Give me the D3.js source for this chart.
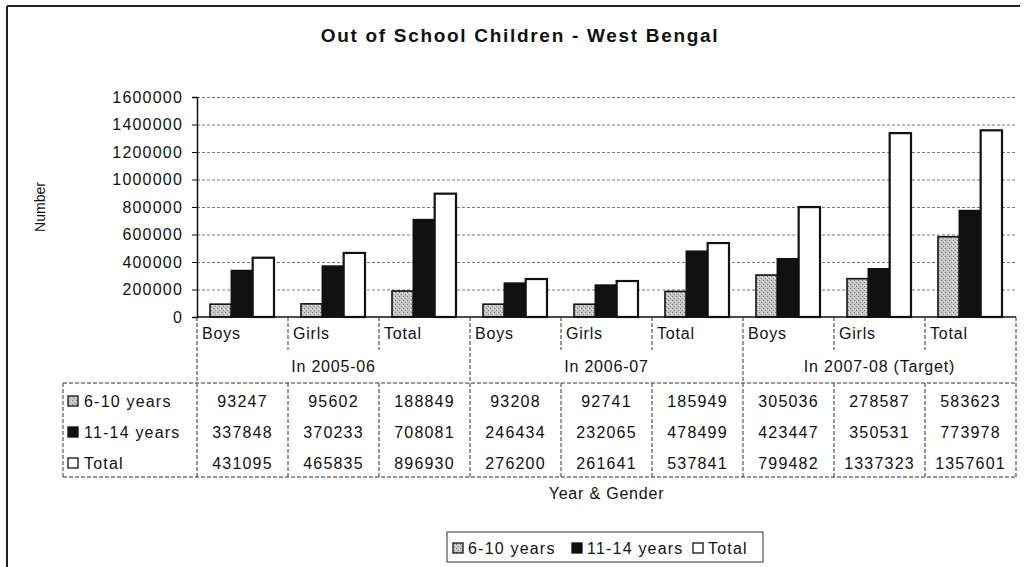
<!DOCTYPE html>
<html>
<head>
<meta charset="utf-8">
<script src="https://cdn.jsdelivr.net/npm/d3@7"></script>
<style>
  body { margin: 0; background: #fff; }
  svg { display: block; }
  text { font-family: "Liberation Sans", Arial, sans-serif; fill: #111; }
</style>
</head>
<body>
<svg width="1025" height="567"></svg>
<script>
const categories = ["Boys", "Girls", "Total", "Boys", "Girls", "Total", "Boys", "Girls", "Total"]
const groups = ["In 2005-06", "In 2006-07", "In 2007-08 (Target)"]
const seriesNames = ["6-10 years", "11-14 years", "Total"]
const age6to10 = [93247, 95602, 188849, 93208, 92741, 185949, 305036, 278587, 583623]
const age11to14 = [337848, 370233, 708081, 246434, 232065, 478499, 423447, 350531, 773978]
const totals = [431095, 465835, 896930, 276200, 261641, 537841, 799482, 1337323, 1357601]
const yTicks = [0, 200000, 400000, 600000, 800000, 1000000, 1200000, 1400000, 1600000]

const series = [age6to10, age11to14, totals]

const svg = d3.select("svg")
const defs = svg.append("defs")

// speckled grey fill for the 6-10 years bars
const pat = defs.append("pattern")
  .attr("id", "stipple")
  .attr("width", 4).attr("height", 4)
  .attr("patternUnits", "userSpaceOnUse")
pat.append("rect").attr("width", 4).attr("height", 4).attr("fill", "#c6c6c6")
pat.append("rect").attr("x", 0).attr("y", 0).attr("width", 1).attr("height", 1).attr("fill", "#7a7a7a")
pat.append("rect").attr("x", 2).attr("y", 2).attr("width", 1).attr("height", 1).attr("fill", "#8c8c8c")
pat.append("rect").attr("x", 3).attr("y", 1).attr("width", 1).attr("height", 1).attr("fill", "#eeeeee")

const fills = ["url(#stipple)", "#111", "#fff"]

const plotLeft = 197, plotRight = 1016, plotTop = 97, plotBottom = 317
const tableTop = 383, tableBottom = 477, tableLeft = 63

// frame
svg.append("line").attr("x1", 7).attr("x2", 1020).attr("y1", 6).attr("y2", 6)
  .attr("stroke", "#222").attr("stroke-width", 2)
svg.append("line").attr("x1", 7).attr("x2", 7).attr("y1", 6).attr("y2", 567)
  .attr("stroke", "#222").attr("stroke-width", 2)

svg.append("text")
  .attr("x", 520).attr("y", 42)
  .attr("text-anchor", "middle")
  .style("font-size", "19px").style("font-weight", "bold").style("letter-spacing", "1.7px")
  .text("Out of School Children - West Bengal")

const y = d3.scaleLinear().domain([0, 1600000]).range([plotBottom, plotTop])
const x = d3.scaleBand().domain(d3.range(categories.length)).range([plotLeft, plotRight])
const x1 = d3.scaleBand().domain(d3.range(seriesNames.length)).range([13, 77])

// gridlines
svg.append("g")
  .attr("transform", `translate(${plotLeft},0)`)
  .call(d3.axisLeft(y).tickValues(yTicks.slice(1)).tickSize(-(plotRight - plotLeft)).tickFormat(""))
  .call(g => g.select(".domain").remove())
  .call(g => g.selectAll("line").attr("stroke", "#777").attr("stroke-dasharray", "3,2"))

// y axis
const yAxis = svg.append("g")
  .attr("transform", `translate(${plotLeft},0)`)
  .call(d3.axisLeft(y).tickValues(yTicks).tickSize(5).tickPadding(9).tickFormat(d3.format("d")))
yAxis.select(".domain").attr("stroke", "#111").attr("stroke-width", 1.5)
yAxis.selectAll("line").attr("stroke", "#111")
yAxis.selectAll("text")
  .style("font-size", "16px").style("letter-spacing", "1.2px")
  .style("font-family", "'Liberation Sans', Arial, sans-serif").attr("fill", "#111")

svg.append("text")
  .attr("transform", "translate(45,207) rotate(-90)")
  .attr("text-anchor", "middle")
  .style("font-size", "14px")
  .text("Number")

// bars
const cat = svg.append("g").selectAll("g")
  .data(categories)
  .join("g")
  .attr("transform", (d, i) => `translate(${x(i)},0)`)

cat.selectAll("rect")
  .data((d, i) => series.map((s, k) => ({ k, v: s[i] })))
  .join("rect")
  .attr("x", d => x1(d.k))
  .attr("width", x1.bandwidth())
  .attr("y", d => y(d.v))
  .attr("height", d => y(0) - y(d.v))
  .attr("fill", d => fills[d.k])
  .attr("stroke", "#111")
  .attr("stroke-width", d => d.k === 2 ? 2.2 : 1.6)

// category axis line
svg.append("line").attr("x1", plotLeft).attr("x2", plotRight).attr("y1", plotBottom).attr("y2", plotBottom)
  .attr("stroke", "#111").attr("stroke-width", 1.5)

const dash = g => g.attr("stroke", "#333").attr("stroke-width", 1).attr("stroke-dasharray", "4,2")

// category separators
const bounds = d3.range(categories.length + 1).map(i => plotLeft + i * x.step())
svg.append("g").selectAll("line")
  .data(bounds)
  .join("line")
  .attr("x1", d => d).attr("x2", d => d)
  .attr("y1", plotBottom).attr("y2", (d, i) => i % 3 === 0 ? tableTop : 350)
  .call(dash)

svg.append("g").selectAll("text")
  .data(categories)
  .join("text")
  .attr("x", (d, i) => x(i) + 5)
  .attr("y", 339)
  .style("font-size", "16px").style("letter-spacing", "0.8px")
  .text(d => d)

svg.append("g").selectAll("text")
  .data(groups)
  .join("text")
  .attr("x", (d, i) => x(i * 3) + x.step() * 1.5)
  .attr("y", 372)
  .attr("text-anchor", "middle")
  .style("font-size", "16px").style("letter-spacing", "0.8px")
  .text(d => d)

// data table
svg.append("g").selectAll("line")
  .data([tableTop, tableBottom])
  .join("line")
  .attr("x1", tableLeft).attr("x2", plotRight)
  .attr("y1", d => d).attr("y2", d => d)
  .call(dash)
svg.append("line").attr("x1", tableLeft).attr("x2", tableLeft)
  .attr("y1", tableTop).attr("y2", tableBottom).call(dash)
svg.append("g").selectAll("line")
  .data(bounds)
  .join("line")
  .attr("x1", d => d).attr("x2", d => d)
  .attr("y1", tableTop).attr("y2", tableBottom)
  .call(dash)

const rowY = [407, 438, 469]
const keyStyle = (sel, k) => sel
  .attr("fill", fills[k]).attr("stroke", "#111").attr("stroke-width", 1.3)

seriesNames.forEach((name, k) => {
  svg.append("rect")
    .attr("x", 68).attr("y", rowY[k] - 11).attr("width", 10).attr("height", 10)
    .call(keyStyle, k)
  svg.append("text")
    .attr("x", 84).attr("y", rowY[k])
    .style("font-size", "16px").style("letter-spacing", "1.2px")
    .text(name)
  svg.append("g").selectAll("text")
    .data(series[k])
    .join("text")
    .attr("x", (d, i) => x(i) + x.step() / 2)
    .attr("y", rowY[k])
    .attr("text-anchor", "middle")
    .style("font-size", "16px").style("letter-spacing", "1.2px")
    .text(d => d)
})

svg.append("text")
  .attr("x", (plotLeft + plotRight) / 2).attr("y", 499)
  .attr("text-anchor", "middle")
  .style("font-size", "16px").style("letter-spacing", "0.8px")
  .text("Year & Gender")

// legend
const legend = svg.append("g")
legend.append("rect")
  .attr("x", 447).attr("y", 532).attr("width", 316).attr("height", 30)
  .attr("fill", "#fff").attr("stroke", "#333").attr("stroke-width", 1)
const legendX = [453, 572, 693]
seriesNames.forEach((name, k) => {
  legend.append("rect")
    .attr("x", legendX[k]).attr("y", 543).attr("width", 10).attr("height", 10)
    .call(keyStyle, k)
  legend.append("text")
    .attr("x", legendX[k] + 15).attr("y", 554)
    .style("font-size", "16px").style("letter-spacing", "1.2px")
    .text(name)
})
</script>
</body>
</html>
